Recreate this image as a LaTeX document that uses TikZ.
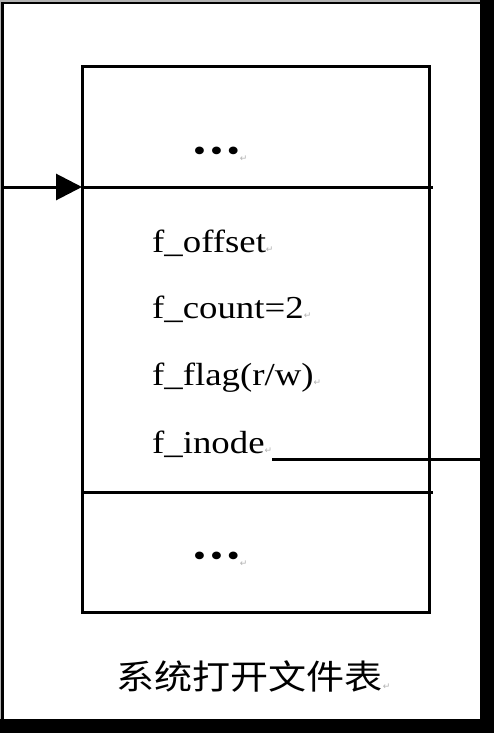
\documentclass[tikz,border=0pt]{standalone}
\usepackage{fontspec}
\setmainfont{Liberation Serif}
\newfontfamily\tnr{Liberation Serif}[FakeStretch=1.15]
\newfontfamily\cjk{Noto Sans CJK SC}[FakeStretch=1.12]
\newfontfamily\symfont{DejaVu Sans}
\usetikzlibrary{arrows.meta}
\usetikzlibrary{positioning}
\newcommand{\retmark}{{\symfont\fontsize{9pt}{9pt}\selectfont\color{gray!60}↵}}
\newcommand{\threedots}{•\hspace{4pt}•\hspace{4pt}•}

\begin{document}
\begin{tikzpicture}[x=1pt, y=-1pt,
  rule/.style={line width=3pt, color=black},
  field/.style={anchor=base west, inner sep=0pt, font=\tnr\fontsize{32pt}{32pt}\selectfont}]
\useasboundingbox (0,0) rectangle (494,733);
% window frame
\fill[black] (0,0) rectangle (494,733);
\fill[gray!60] (0,0) rectangle (480,2);
\fill[gray!60] (0,0) rectangle (1,719);
\fill[white] (4,4) rectangle (480,719);
% table
\node (tbl) [draw, rule, minimum width=347pt, minimum height=545pt, inner sep=0pt, outer sep=0pt] at (255.5,339.5) {};
\coordinate (in) at (3,187);
\coordinate (top) at (433,187);
\coordinate (bot) at (433,492);
\coordinate (out) at (480,459);
\draw [rule, -{Triangle[length=26pt, width=26pt]}] (in) -- (tbl.west |- in);
\draw [rule] (tbl.west |- in) -- (top);
\draw [rule] (tbl.west |- bot) -- (bot);
\node (dotsa) [field] at (193,161) {\threedots\retmark};
\node (offset) [field] at (152,252) {f\_offset\retmark};
\node (count) [field] at (152,318) {f\_count=2\retmark};
\node (flag) [field] at (152,385) {f\_flag(r/w)\retmark};
\node (inode) [field] at (152,453) {f\_inode\retmark};
\draw [rule] (inode.base east |- out) -- (out);
\node (dotsb) [field] at (193,566) {\threedots\retmark};
\node (cap) [anchor=base west, inner sep=0pt, font=\cjk\fontsize{34pt}{34pt}\selectfont] at (116,689) {系统打开文件表\retmark};
\end{tikzpicture}
\end{document}
